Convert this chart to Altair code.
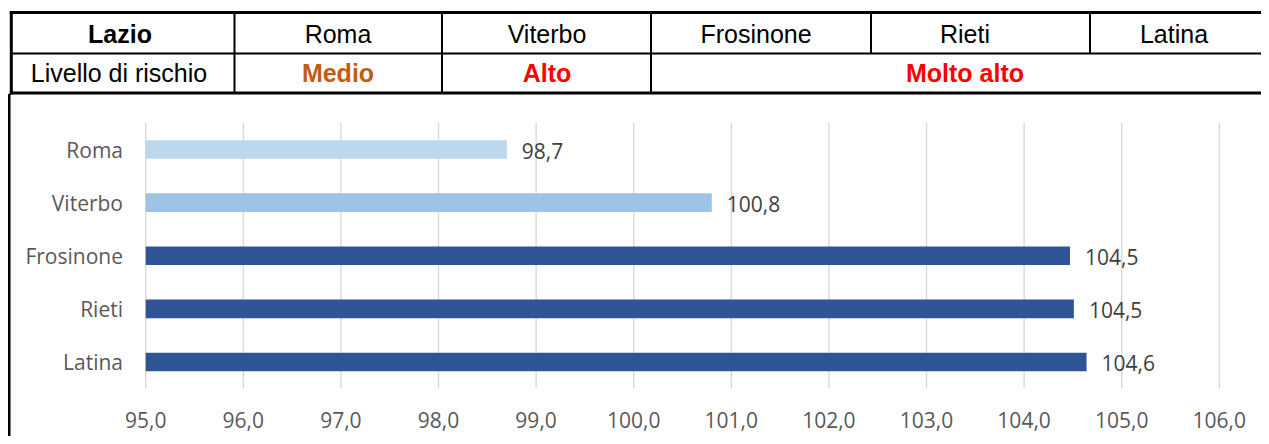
import altair as alt
import pandas as pd

# ---------------- data ----------------
region = "Lazio"
row_label = "Livello di rischio"
provinces = ["Roma", "Viterbo", "Frosinone", "Rieti", "Latina"]
values = [98.7, 100.8, 104.47, 104.51, 104.64]
risk_levels = ["Medio", "Alto", "Molto alto", "Molto alto", "Molto alto"]
level_order = ["Medio", "Alto", "Molto alto"]
tick_values = [95, 96, 97, 98, 99, 100, 101, 102, 103, 104, 105, 106]

# ---------------- styles ----------------
bar_colors = ["#BDD7EE", "#9DC3E6", "#2F5597"]
level_text_colors = ["#C55A11", "#FF0000", "#FF0000"]
CHART_FONT = "Open Sans"
TABLE_FONT = "Liberation Sans"
W, H = 1253, 428

def fmt(v):
    return f"{v:.1f}".replace(".", ",")

bars_df = pd.DataFrame({
    "province": provinces,
    "value": values,
    "start": [tick_values[0]] * len(provinces),
    "level": risk_levels,
    "label": [fmt(v) for v in values],
})
ticks_df = pd.DataFrame({"tick": tick_values, "label": [fmt(t) for t in tick_values]})

# merged risk cells: anchor each level at the middle province that has it
risk_cells = []
for lvl in level_order:
    members = [p for p, l in zip(provinces, risk_levels) if l == lvl]
    risk_cells.append({"province": members[len(members) // 2], "level": lvl})
risk_df = pd.DataFrame(risk_cells)
header_df = pd.DataFrame({"province": provinces})
one = pd.DataFrame({"a": [0]})

xs = alt.Scale(domain=[tick_values[0], tick_values[-1]], range=[137.7, 1211.3], zero=False, nice=False)
ys = alt.Scale(domain=provinces, range=[114.95, 380.55], paddingInner=0.648, paddingOuter=0.324)
cols = alt.Scale(type="point", domain=provinces, range=[330, 1166], padding=0)

grid = alt.Chart(ticks_df).mark_rule(color="#D9D9D9", strokeWidth=1.4).encode(
    x=alt.X("tick:Q", scale=xs, axis=None),
    y=alt.value(114.7), y2=alt.value(380),
)
bars = alt.Chart(bars_df).mark_bar().encode(
    x=alt.X("start:Q", scale=xs, axis=None),
    x2="value:Q",
    y=alt.Y("province:N", scale=ys, axis=None),
    color=alt.Color("level:N", scale=alt.Scale(domain=level_order, range=bar_colors), legend=None),
)
data_labels = alt.Chart(bars_df).mark_text(
    align="left", baseline="alphabetic", dx=15, dy=9.5, font=CHART_FONT, fontSize=21, color="#404040"
).encode(
    x=alt.X("value:Q", scale=xs, axis=None),
    y=alt.Y("province:N", scale=ys, axis=None),
    text="label:N",
)
cat_labels = alt.Chart(bars_df).mark_text(
    align="right", baseline="alphabetic", dy=8, font=CHART_FONT, fontSize=21, color="#595959"
).encode(
    x=alt.value(115),
    y=alt.Y("province:N", scale=ys, axis=None),
    text="province:N",
)
tick_labels = alt.Chart(ticks_df).mark_text(
    align="center", baseline="alphabetic", font=CHART_FONT, fontSize=21, color="#595959"
).encode(
    x=alt.X("tick:Q", scale=xs, axis=None),
    y=alt.value(420.3),
    text="label:N",
)

def rule(x1, x2, y1, y2, w):
    return alt.Chart(one).mark_rule(color="#000000", strokeWidth=w).encode(
        x=alt.value(x1), x2=alt.value(x2), y=alt.value(y1), y2=alt.value(y2)
    )

table_lines = [
    rule(1.8, W + 10, 4.5, 4.5, 3),
    rule(3.3, W + 10, 45.5, 45.5, 2),
    rule(1.8, W + 10, 85, 85, 3),
    rule(3.3, 3.3, 3, 86.5, 3),
    rule(1, 1, 86, H + 10, 3),
    rule(226.5, 226.5, 4.5, 85, 2),
    rule(434, 434, 4.5, 85, 2),
    rule(643, 643, 4.5, 85, 2),
    rule(863, 863, 4.5, 45.5, 2),
    rule(1082, 1082, 4.5, 45.5, 2),
]

region_text = alt.Chart(one).mark_text(
    align="center", baseline="alphabetic", font=TABLE_FONT, fontSize=25, fontWeight="bold", color="#000000"
).encode(x=alt.value(112), y=alt.value(35.3), text=alt.value(region))
row_label_text = alt.Chart(one).mark_text(
    align="center", baseline="alphabetic", font=TABLE_FONT, fontSize=25, color="#000000"
).encode(x=alt.value(111), y=alt.value(74), text=alt.value(row_label))
header_text = alt.Chart(header_df).mark_text(
    align="center", baseline="alphabetic", font=TABLE_FONT, fontSize=25, color="#000000"
).encode(
    x=alt.X("province:N", scale=cols, axis=None),
    y=alt.value(35.3),
    text="province:N",
)
risk_text = alt.Chart(risk_df).mark_text(
    align="center", baseline="alphabetic", font=TABLE_FONT, fontSize=25, fontWeight="bold"
).encode(
    x=alt.X("province:N", scale=cols, axis=None),
    y=alt.value(74),
    text="level:N",
    color=alt.Color("level:N", scale=alt.Scale(domain=level_order, range=level_text_colors), legend=None),
)

chart = alt.layer(
    grid, bars, data_labels, cat_labels, tick_labels,
    *table_lines, region_text, row_label_text, header_text, risk_text,
).resolve_scale(
    x="independent", y="independent", color="independent"
).properties(
    width=W, height=H, padding=0, background="#FFFFFF",
    autosize=alt.AutoSizeParams(type="none"),
).configure_view(stroke=None)

chart.save("out.html", embed_options={"renderer": "svg", "actions": False})
